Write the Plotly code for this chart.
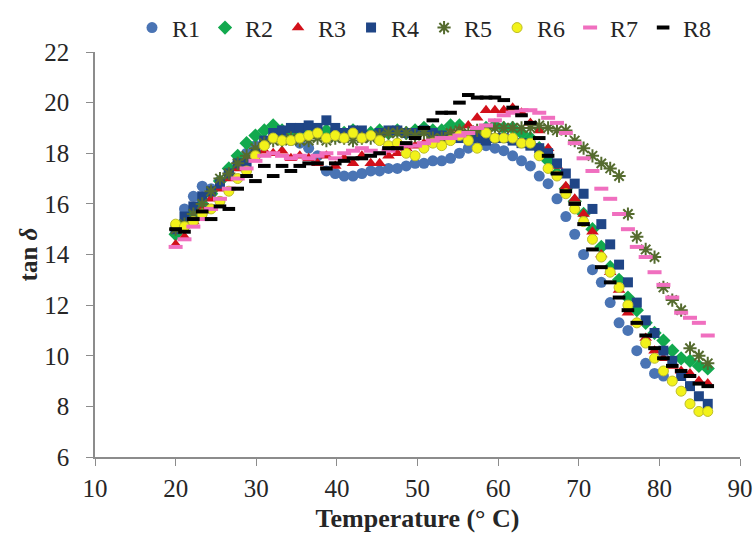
import plotly.graph_objects as go

temperature = [20.0, 21.1, 22.2, 23.3, 24.4, 25.5, 26.6, 27.7, 28.8, 29.9,
               31.0, 32.1, 33.2, 34.3, 35.4, 36.5, 37.6, 38.7, 39.8, 40.9,
               42.0, 43.1, 44.2, 45.3, 46.4, 47.5, 48.6, 49.7, 50.8, 51.9,
               53.0, 54.1, 55.2, 56.3, 57.4, 58.5, 59.6, 60.7, 61.8, 62.9,
               64.0, 65.1, 66.2, 67.3, 68.4, 69.5, 70.6, 71.7, 72.8, 73.9,
               75.0, 76.1, 77.2, 78.3, 79.4, 80.5, 81.6, 82.7, 83.8, 84.9, 86.0]

R1 = [15.0, 15.8, 16.3, 16.7, 16.6, 16.9, 17.2, 17.6, 18.0, 18.3,
      18.5, 18.6, 18.6, 18.5, 18.4, 18.2, 17.9, 17.3, 17.2, 17.1,
      17.1, 17.2, 17.3, 17.3, 17.4, 17.4, 17.5, 17.6, 17.6, 17.7,
      17.7, 17.8, 18.0, 18.2, 18.3, 18.3, 18.2, 18.1, 17.9, 17.7,
      17.5, 17.1, 16.8, 16.2, 15.5, 14.8, 14.0, 13.4, 12.9, 12.1,
      11.3, 11.0, 10.2, 9.7, 9.3, 9.2, None, None, None, None, None]
R2 = [14.8, 15.3, 15.6, 16.0, 16.4, 16.9, 17.4, 17.9, 18.4, 18.7,
      18.9, 19.1, 18.9, 18.8, 18.9, 18.9, 18.8, 18.9, 18.7, 18.8,
      18.9, 18.7, 18.8, 18.9, 18.8, 18.9, 18.8, 18.9, 19.0, 18.9,
      18.9, 19.1, 19.1, 18.6, 18.8, 19.0, 19.1, 19.0, 19.0, 18.8,
      18.6, 18.2, 17.7, 17.2, 16.6, 16.1, 15.6, 15.0, 14.3, 13.5,
      13.0, 12.3, 11.8, 11.3, 10.9, 10.6, 10.2, 9.9, 9.8, 9.6, 9.5]
R3 = [14.4, 14.7, 15.3, 15.8, 16.2, 16.6, 17.0, 17.4, 17.8, 18.1,
      18.1, 18.0, 18.1, 17.8, 17.9, 17.8, 17.6, 17.9, 17.5, 17.8,
      17.6, 17.9, 17.6, 17.6, 17.9, 18.0, 18.2, 18.3, 18.4, 18.6,
      18.7, 18.8, 18.9, 19.1, 19.4, 19.7, 19.7, 19.7, 19.8, 19.6,
      19.2, 18.9, 18.2, 17.5, 16.7, 16.2, 15.6, 14.9, 14.0, 13.3,
      12.6, 11.7, 11.3, 10.7, 10.2, 9.9, 9.6, 9.4, 9.3, 9.0, 8.9]
R4 = [15.0, 15.5, 15.9, 16.3, 16.5, 16.8, 17.2, 17.6, 17.6, 18.0,
      18.5, 18.8, 18.9, 19.0, 19.0, 19.1, 19.0, 19.3, 19.0, 18.8,
      18.9, 18.9, 18.7, 18.8, 18.9, 18.9, 18.8, 18.8, 18.9, 18.8,
      18.7, 18.6, 18.6, 18.7, 18.6, 18.5, 18.6, 18.6, 18.5, 18.4,
      18.3, 18.2, 18.0, 17.6, 17.2, 16.8, 16.4, 15.8, 15.2, 14.4,
      13.6, 12.9, 12.1, 11.4, 10.9, 10.2, 9.8, 9.2, 8.8, 8.4, 8.1]
R5 = [15.0, 15.2, 15.6, 16.0, 16.5, 17.0, 17.2, 17.6, 17.9, 18.2,
      18.4, 18.5, 18.5, 18.6, 18.5, 18.5, 18.6, 18.5, 18.6, 18.6,
      18.5, 18.6, 18.6, 18.7, 18.8, 18.8, 18.8, 18.7, 18.8, 18.6,
      18.6, 18.8, 18.9, 18.8, 18.9, 18.9, 19.0, 19.0, 19.0, 19.0,
      19.0, 19.1, 19.0, 18.9, 18.9, 18.5, 18.2, 17.9, 17.6, 17.4,
      17.1, 15.6, 14.7, 14.2, 13.9, 12.7, 12.2, 11.8, 10.3, 10.0, 9.7]
R6 = [15.2, 15.1, 15.3, 15.6, 15.8, 16.1, 16.5, 17.0, 17.3, 17.9,
      18.3, 18.6, 18.5, 18.5, 18.6, 18.7, 18.8, 18.6, 18.7, 18.6,
      18.8, 18.6, 18.7, 18.5, 18.3, 18.4, 18.0, 17.9, 18.2, 18.4,
      18.3, 18.5, 18.7, 18.5, 18.2, 18.8, 18.6, 18.6, 18.6, 18.4,
      18.4, 17.9, 17.4, 17.1, 16.4, 15.8, 15.3, 14.6, 13.9, 13.3,
      12.7, 12.0, 11.3, 10.5, 9.9, 9.4, 9.0, 8.6, 8.1, 7.8, 7.8]
R7 = [14.3, 14.6, 15.1, 15.4, 15.8, 16.2, 16.6, 17.0, 17.4, 17.7,
      17.9, 18.0, 17.9, 17.8, 17.9, 17.8, 17.9, 18.0, 17.8, 18.0,
      18.1, 18.2, 18.1, 18.0, 18.1, 18.2, 18.3, 18.3, 18.4, 18.5,
      18.6, 18.6, 18.7, 18.8, 19.0, 19.1, 19.3, 19.5, 19.6, 19.7,
      19.7, 19.6, 19.4, 19.2, 18.8, 18.4, 17.8, 17.3, 16.6, 16.2,
      15.6, 15.0, 14.3, 13.9, 13.3, 12.8, 12.3, 11.7, 11.5, 11.3, 10.8]
R8 = [15.0, 14.9, 15.4, 15.7, 15.4, 15.9, 15.8, 16.6, 17.1, 16.9,
      17.5, 17.1, 17.5, 17.3, 17.5, 17.6, 17.6, 17.4, 17.6, 17.7,
      17.8, 17.8, 17.9, 18.0, 18.2, 18.2, 18.4, 18.6, 19.0, 19.3,
      19.6, 19.6, 20.0, 20.3, 20.2, 20.2, 20.2, 20.1, 19.8, 19.5,
      19.2, 18.6, 17.9, 17.2, 16.5, 16.0, 15.2, 14.2, 13.5, 12.9,
      12.3, 11.8, 11.3, 10.8, 10.3, 9.9, 9.6, 9.4, 9.2, 8.9, 8.8]

series_names = ["R1", "R2", "R3", "R4", "R5", "R6", "R7", "R8"]
series_values = [R1, R2, R3, R4, R5, R6, R7, R8]

x_ticks = [10, 20, 30, 40, 50, 60, 70, 80, 90]
y_ticks = [6, 8, 10, 12, 14, 16, 18, 20, 22]

styles = {
    "R1": dict(symbol="circle", size=11, color="#4A74B4", line=dict(width=0)),
    "R2": dict(symbol="diamond", size=11, color="#12A94E", line=dict(width=0)),
    "R3": dict(symbol="triangle-up", size=11, color="#D2101A", line=dict(width=0)),
    "R4": dict(symbol="square", size=10, color="#1F4586", line=dict(width=0)),
    "R5": dict(symbol="asterisk", size=11, color="#556B2F", line=dict(width=2, color="#556B2F")),
    "R6": dict(symbol="circle", size=10, color="#F2F21A", line=dict(width=1, color="#BDBD2A")),
    "R7": dict(symbol="line-ew", size=10, color="#F06FBF", line=dict(width=4, color="#F06FBF")),
    "R8": dict(symbol="line-ew", size=9, color="#000000", line=dict(width=4, color="#000000")),
}

fig = go.Figure()
for name, vals in zip(series_names, series_values):
    fig.add_trace(go.Scatter(
        x=temperature, y=vals, mode="markers", name=name,
        marker=styles[name],
    ))

serif = "Liberation Serif"
text_color = "#262626"
fig.update_layout(
    width=756, height=539,
    margin=dict(l=95, r=16, t=52, b=82, autoexpand=False),
    paper_bgcolor="white", plot_bgcolor="white",
    font=dict(family=serif, size=25, color=text_color),
    legend=dict(orientation="h", x=132 / 756, xref="container", xanchor="left",
                y=1 - 28 / 539, yref="container", yanchor="middle",
                font=dict(family=serif, size=24, color=text_color), itemwidth=30,
                tracegroupgap=0, bgcolor="rgba(0,0,0,0)"),
    showlegend=True,
)
fig.update_xaxes(
    range=[10, 90], tickvals=x_ticks, ticktext=[str(v) for v in x_ticks],
    tickfont=dict(family=serif, size=25, color=text_color), automargin=False,
    showgrid=False, zeroline=False, showline=True, linecolor="#8C8C8C", linewidth=1.5,
    ticks="outside", ticklen=7, tickcolor="#8C8C8C", ticklabelstandoff=1,
    title=dict(text="<b>Temperature (° C)</b>", font=dict(size=26, family=serif, color=text_color), standoff=8),
)
fig.update_yaxes(
    range=[6, 22], tickvals=y_ticks, ticktext=[str(v) for v in y_ticks],
    tickfont=dict(family=serif, size=25, color=text_color), automargin=False,
    showgrid=False, zeroline=False, showline=True, linecolor="#8C8C8C", linewidth=1.5,
    ticks="outside", ticklen=7, tickcolor="#8C8C8C", ticklabelstandoff=12,
    title=dict(text="<b>tan <i>δ</i></b>", font=dict(size=25, family=serif, color=text_color), standoff=0),
)

fig.write_html(
    "out.html",
    config={"displayModeBar": False},
    post_script="document.body.style.margin='0';document.body.style.overflow='hidden';"
                "document.documentElement.style.overflow='hidden';",
)
